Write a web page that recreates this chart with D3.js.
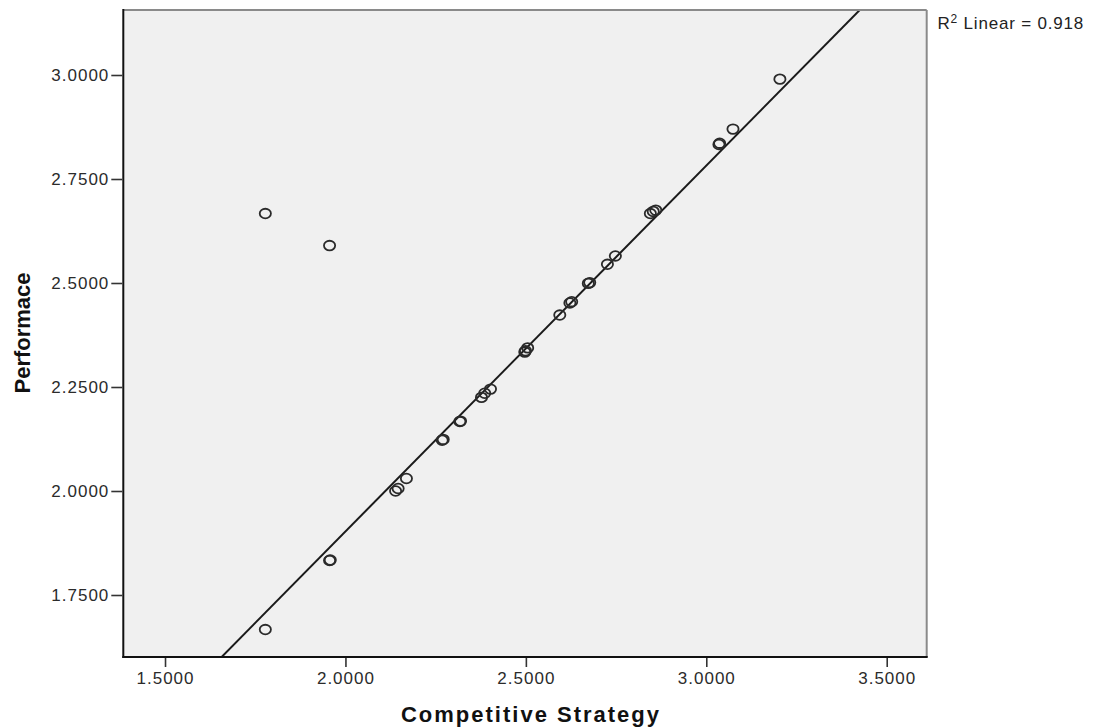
<!DOCTYPE html>
<html>
<head>
<meta charset="utf-8">
<script src="https://cdn.jsdelivr.net/npm/d3@7"></script>
<style>
  html, body { margin: 0; padding: 0; background: #ffffff; }
  svg { display: block; }
  text { font-family: "Liberation Sans", Arial, sans-serif; }
</style>
</head>
<body>
<svg id="chart" width="1098" height="727"></svg>
<script>
// ---- data ----
const strategy = [1.778, 1.956, 1.778, 1.956, 1.958, 2.139, 2.146, 2.169, 2.271, 2.268, 2.317, 2.319,
                  2.377, 2.386, 2.402, 2.497, 2.505, 2.499, 2.594, 2.627, 2.622, 2.677, 2.673,
                  2.726, 2.748, 2.845, 2.853, 2.860, 3.037, 3.035, 3.074, 3.204];
const performance = [2.667, 2.590, 1.667, 1.833, 1.834, 2.000, 2.006, 2.030, 2.124, 2.122, 2.167, 2.168,
                     2.225, 2.235, 2.245, 2.334, 2.344, 2.337, 2.423, 2.455, 2.452, 2.501, 2.499,
                     2.545, 2.565, 2.667, 2.672, 2.675, 2.836, 2.833, 2.870, 2.990];
const xTicks = [1.5, 2.0, 2.5, 3.0, 3.5];
const yTicks = [1.75, 2.0, 2.25, 2.5, 2.75, 3.0];
const fitIntercept = 0.1437;
const fitSlope = 0.8795;
const r2Label = "0.918";
const xTitle = "Competitive Strategy";
const yTitle = "Performace";

// ---- layout ----
const svg = d3.select("#chart");
const L = 123.3, R = 926.7, T = 10, B = 657;

const x = d3.scaleLinear().domain([1.3844, 3.6108]).range([L, R]);
const y = d3.scaleLinear().domain([1.60096, 3.15625]).range([B, T]);

// plot background
svg.append("rect").attr("x", L).attr("y", T).attr("width", R - L).attr("height", B - T)
  .attr("fill", "#f0f0f0");

// clip for regression line
svg.append("clipPath").attr("id", "clip")
  .append("rect").attr("x", L).attr("y", T).attr("width", R - L).attr("height", B - T);

// regression line
const xd = x.domain();
svg.append("line")
  .attr("clip-path", "url(#clip)")
  .attr("x1", x(xd[0])).attr("y1", y(fitIntercept + fitSlope * xd[0]))
  .attr("x2", x(xd[1])).attr("y2", y(fitIntercept + fitSlope * xd[1]))
  .attr("stroke", "#1a1a1a").attr("stroke-width", 2);

// points
const pts = strategy.map((v, i) => ({x: v, y: performance[i]}));
svg.append("g").selectAll("ellipse").data(pts).join("ellipse")
  .attr("cx", d => x(d.x)).attr("cy", d => y(d.y))
  .attr("rx", 5.6).attr("ry", 4.8)
  .attr("fill", "none").attr("stroke", "#2a2a2a").attr("stroke-width", 1.8);

// frame: top/right grey, left/bottom black
svg.append("line").attr("x1", L).attr("y1", T).attr("x2", R).attr("y2", T)
  .attr("stroke", "#8a8a8a").attr("stroke-width", 2);
svg.append("line").attr("x1", R).attr("y1", T).attr("x2", R).attr("y2", B)
  .attr("stroke", "#8a8a8a").attr("stroke-width", 2);
svg.append("line").attr("x1", L).attr("y1", T - 1).attr("x2", L).attr("y2", B + 1)
  .attr("stroke", "#111").attr("stroke-width", 2);
svg.append("line").attr("x1", L - 1).attr("y1", B).attr("x2", R + 1).attr("y2", B)
  .attr("stroke", "#111").attr("stroke-width", 2);

// axes
const fmt = d3.format(".4f");
const yAxis = svg.append("g").attr("transform", `translate(${L - 1},0)`)
  .call(d3.axisLeft(y).tickValues(yTicks).tickFormat(fmt).tickSize(11).tickSizeOuter(0).tickPadding(2));
const xAxis = svg.append("g").attr("transform", `translate(0,${B + 1})`)
  .call(d3.axisBottom(x).tickValues(xTicks).tickFormat(fmt).tickSize(9).tickSizeOuter(0).tickPadding(5));
[yAxis, xAxis].forEach(g => {
  g.select(".domain").remove();
  g.selectAll(".tick line").attr("stroke", "#333").attr("stroke-width", 1.6);
  g.selectAll(".tick text").attr("fill", "#2b2b2b")
    .style("font-size", "17px").style("letter-spacing", "1px")
    .style("font-family", "'Liberation Sans', Arial, sans-serif");
});

// axis titles
svg.append("text").attr("x", 531).attr("y", 722)
  .attr("text-anchor", "middle")
  .style("font-size", "22px").style("font-weight", "bold").style("letter-spacing", "2px")
  .attr("fill", "#111").text(xTitle);

svg.append("text").attr("transform", "translate(30,333) rotate(-90)")
  .attr("text-anchor", "middle")
  .style("font-size", "22px").style("font-weight", "bold")
  .attr("fill", "#111").text(yTitle);

// R² label
const r2 = svg.append("text").attr("x", 937.5).attr("y", 29)
  .style("font-size", "17px").style("letter-spacing", "0.8px").attr("fill", "#222");
r2.append("tspan").text("R");
r2.append("tspan").attr("dy", -6).style("font-size", "12px").text("2");
r2.append("tspan").attr("dy", 6).text(" Linear = " + r2Label);
</script>
</body>
</html>
